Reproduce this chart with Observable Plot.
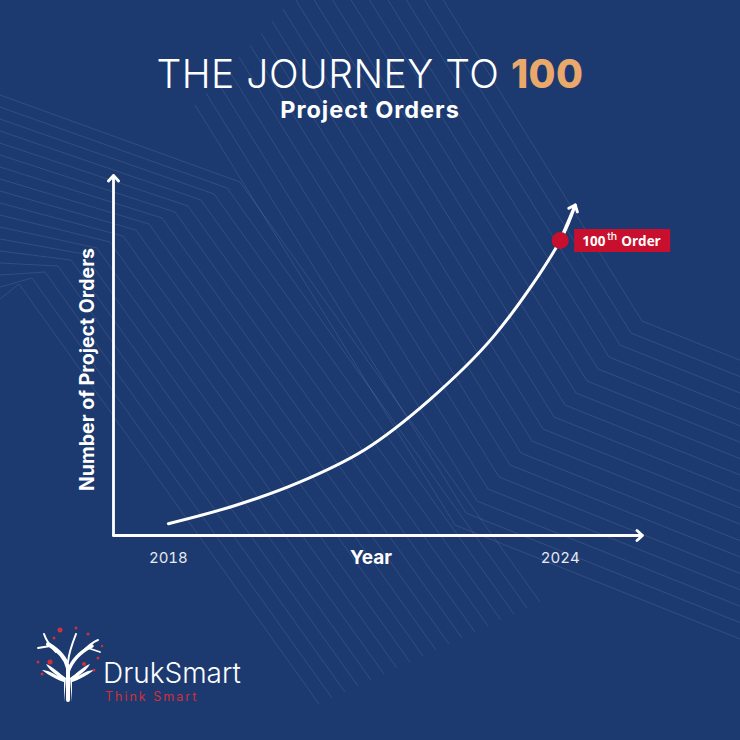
<!DOCTYPE html>
<html><head><meta charset="utf-8">
<script src="https://cdn.jsdelivr.net/npm/d3@7"></script>
<script src="https://cdn.jsdelivr.net/npm/@observablehq/plot@0.6"></script>
<style>
html,body{margin:0;padding:0;}
body{width:740px;height:740px;background:#1c3a70;overflow:hidden;position:relative;font-family:Inter,"Open Sans",sans-serif;}
#bg{position:absolute;left:0;top:0;}
#title{position:absolute;top:52px;left:0;width:740px;text-align:center;color:#fff;font-size:39px;font-weight:300;line-height:44px;letter-spacing:0.5px;white-space:nowrap;}
#title b{color:#eaa86b;font-weight:800;}
#subtitle{position:absolute;top:96px;left:0;width:740px;text-align:center;color:#fff;font-size:23.5px;font-weight:700;line-height:28px;letter-spacing:1px;}
#chart{position:absolute;top:140px;left:0;}
#logo{position:absolute;left:28px;top:622px;}
#brand{position:absolute;left:103px;top:659px;color:#fff;font-size:28px;font-weight:300;line-height:28px;}
#tag{position:absolute;left:105px;top:690px;color:#d0303c;font-size:12.5px;letter-spacing:2px;line-height:13px;}
</style></head>
<body>
<svg id="bg" width="740" height="740"></svg>
<div id="title">THE JOURNEY TO <b>100</b></div>
<div id="subtitle">Project Orders</div>
<div id="chart"></div>
<svg id="logo" width="80" height="82" viewBox="0 0 80 82">
  <g fill="none" stroke="#fff" stroke-linecap="round">
    <path d="M40 78 L40 46 C38 36 30 28 20 22" stroke-width="4"/>
    <path d="M40 50 C44 38 52 30 64 24" stroke-width="3.5"/>
    <path d="M28 30 C22 24 18 18 16 12" stroke-width="2"/>
    <path d="M52 32 C58 26 64 20 70 18" stroke-width="2"/>
    <path d="M40 40 C41 30 44 22 48 12" stroke-width="2"/>
    <path d="M22 24 L10 26" stroke-width="1.8"/>
    <path d="M60 26 L72 30" stroke-width="1.8"/>
  </g>
  <path d="M36 80 L36 60 C30 58 22 54 14 48 C20 48 26 52 30 54 C24 50 20 46 18 42 C24 44 32 52 38 56 Z" fill="#fff"/>
  <path d="M44 80 L44 60 C50 58 58 54 66 48 C60 48 54 52 50 54 C56 50 60 46 62 42 C56 44 48 52 42 56 Z" fill="#fff"/>
  <g fill="#d0303c">
    <circle cx="32" cy="8" r="2.5"/><circle cx="48" cy="6" r="1.5"/><circle cx="60" cy="12" r="1.5"/>
    <circle cx="22" cy="40" r="2.5"/><circle cx="10" cy="40" r="1.5"/><circle cx="56" cy="42" r="2"/>
    <circle cx="70" cy="36" r="1.5"/><circle cx="26" cy="16" r="1.5"/><circle cx="66" cy="48" r="1.5"/>
    <circle cx="14" cy="52" r="1.5"/><circle cx="74" cy="24" r="1.2"/>
  </g>
</svg>
<div id="brand">DrukSmart</div>
<div id="tag">Think Smart</div>
<script>
// ---- data ----
const years  = [2018, 2019, 2020, 2021, 2022, 2023, 2024];
const orders = [4, 10, 18, 29, 46, 68, 100];
const trendTipYear = [2024.23];     // where the growth arrow ends
const trendTipOrders = [112];
const milestoneYear = [2024];
const milestoneOrders = [100];
const labelParts = ["100", "th", "Order"];
const xTicks = [2018, 2024];
const xExtent = [2017.16, 2025.26];   // x-axis arrow span (years)
const yExtent = [0, 122];             // y-axis arrow span (orders)
const xTitle = "Year";
const yTitle = "Number of Project Orders";

// ---- decorative background lines ----
(function(){
  const bg = d3.select("#bg");
  const g = bg.append("g").attr("fill","none").attr("stroke","#ffffff").attr("stroke-opacity",0.1).attr("stroke-width",1);
  for (let i = 0; i < 18; i++) {
    const y0 = 95 + i*12, bx = 240 - i*13, by = 182 + i*6;
    g.append("path").attr("d", `M0,${y0} L${bx},${by} L${bx+300},${by+420}`);
  }
  for (let i = 0; i < 18; i++) {
    const bx = 455 + i*11, by = 525 - i*12;
    g.append("path").attr("d", `M${bx-260},${by-420} L${bx},${by} L${bx+400},${by+160}`);
  }
})();

// ---- chart ----
const series = years.map((y, i) => ({year: y, orders: orders[i]}))
  .concat(trendTipYear.map((y, i) => ({year: y, orders: trendTipOrders[i]})));
const headSeg = [{x1: series[series.length-2].year, y1: series[series.length-2].orders,
                  x2: series[series.length-1].year, y2: series[series.length-1].orders}];
const milestone = milestoneYear.map((y, i) => ({year: y, orders: milestoneOrders[i]}));
const red = "#c8102e";
const boxSymbol = {draw(ctx){ ctx.rect(14, -11.5, 96, 23); }};

const chart = Plot.plot({
  width: 740, height: 460,
  marginLeft: 113, marginRight: 98, marginTop: 35, marginBottom: 65,
  style: {background: "transparent", color: "#fff", fontFamily: "Inter, 'Open Sans', sans-serif"},
  x: {domain: xExtent, axis: null},
  y: {domain: yExtent, axis: null},
  marks: [
    Plot.arrow([{x1: xExtent[0], y1: yExtent[0], x2: xExtent[1], y2: yExtent[0]}],
      {x1: "x1", y1: "y1", x2: "x2", y2: "y2", stroke: "#fff", strokeWidth: 2.8, headLength: 4, headAngle: 85}),
    Plot.arrow([{x1: xExtent[0], y1: yExtent[0], x2: xExtent[0], y2: yExtent[1]}],
      {x1: "x1", y1: "y1", x2: "x2", y2: "y2", stroke: "#fff", strokeWidth: 2.8, headLength: 4, headAngle: 85}),
    Plot.line(series, {x: "year", y: "orders", curve: "catmull-rom", stroke: "#fff", strokeWidth: 3}),
    Plot.arrow(headSeg, {x1: "x1", y1: "y1", x2: "x2", y2: "y2", stroke: "#fff", strokeWidth: 3, headLength: 3.6, headAngle: 80}),
    Plot.dot(milestone, {x: "year", y: "orders", symbol: boxSymbol, r: 10, fill: red}),
    Plot.dot(milestone, {x: "year", y: "orders", r: 8.5, fill: red}),
    Plot.text(milestone, {x: "year", y: "orders", text: () => labelParts[0], dx: 22, dy: 1.5, textAnchor: "start", fill: "#fff", fontSize: 13.5, fontWeight: 700, fontFamily: "'Open Sans', sans-serif"}),
    Plot.text(milestone, {x: "year", y: "orders", text: () => labelParts[1], dx: 47, dy: -4, textAnchor: "start", fill: "#fff", fontSize: 10.5, fontWeight: 500}),
    Plot.text(milestone, {x: "year", y: "orders", text: () => labelParts[2], dx: 61, dy: 1.5, textAnchor: "start", fill: "#fff", fontSize: 13.5, fontWeight: 700, fontFamily: "'Open Sans', sans-serif"}),
    Plot.axisX(xTicks, {tickSize: 0, tickPadding: 17, fontSize: 15, fill: "#e6e9f0", label: null, tickFormat: d => String(d)}),
    Plot.text([xTitle], {frameAnchor: "bottom", lineAnchor: "middle", text: d => d, dy: 22, dx: -7, fill: "#fff", fontSize: 19, fontWeight: 700}),
    Plot.text([yTitle], {frameAnchor: "left", textAnchor: "middle", lineAnchor: "middle", text: d => d, rotate: -90, dx: -26, dy: 14, fill: "#fff", fontSize: 19.5, fontWeight: 700})
  ]
});
document.getElementById("chart").appendChild(chart);
</script>
</body></html>
